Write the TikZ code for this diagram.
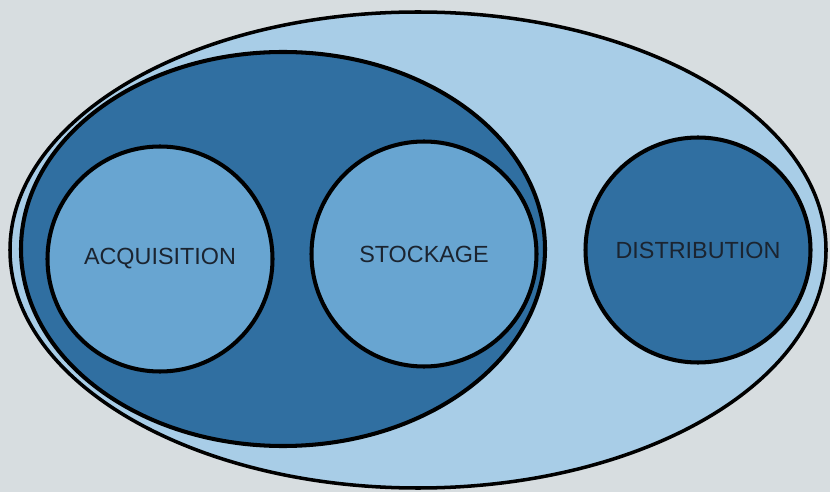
\documentclass[tikz,border=0pt]{standalone}
\usepackage{fontspec}
\setmainfont{Liberation Sans}
\usetikzlibrary{positioning}

\definecolor{paper}{HTML}{D7DDE0}
\definecolor{paleblue}{HTML}{A8CDE7}
\definecolor{midblue}{HTML}{68A5D1}
\definecolor{deepblue}{HTML}{306FA1}
\definecolor{ink}{HTML}{1B2430}

\begin{document}
\begin{tikzpicture}[font=\fontsize{13.3}{15}\selectfont]
    \tikzset{
        stage/.style={
            circle,
            draw=black,
            line width=2.3pt,
            minimum size=4.5cm,
            inner sep=0pt,
            text=ink
        },
        rim/.style={
            draw=black,
            line width=2pt
        }
    }

    % page
    \fill[paper] (0,0) rectangle (16.6,9.84);
    \useasboundingbox (0,0) rectangle (16.6,9.84);

    \coordinate (sys) at (8.36,4.84);
    \coordinate (core) at (5.66,4.86);

    % whole system, then acquisition + storage part
    \draw[rim,fill=paleblue] (sys) ellipse [x radius=8.16cm, y radius=4.76cm];
    \draw[rim,line width=2.3pt,fill=deepblue] (core) ellipse [x radius=5.24cm, y radius=3.94cm];

    \node[stage,fill=midblue] (acq) at (3.2,4.66) {ACQUISITION};
    \node[stage,fill=midblue] (stock) at (8.48,4.76) {STOCKAGE};
    \node[stage,fill=deepblue] (dist) at (13.96,4.84) {DISTRIBUTION};
\end{tikzpicture}
\end{document}
